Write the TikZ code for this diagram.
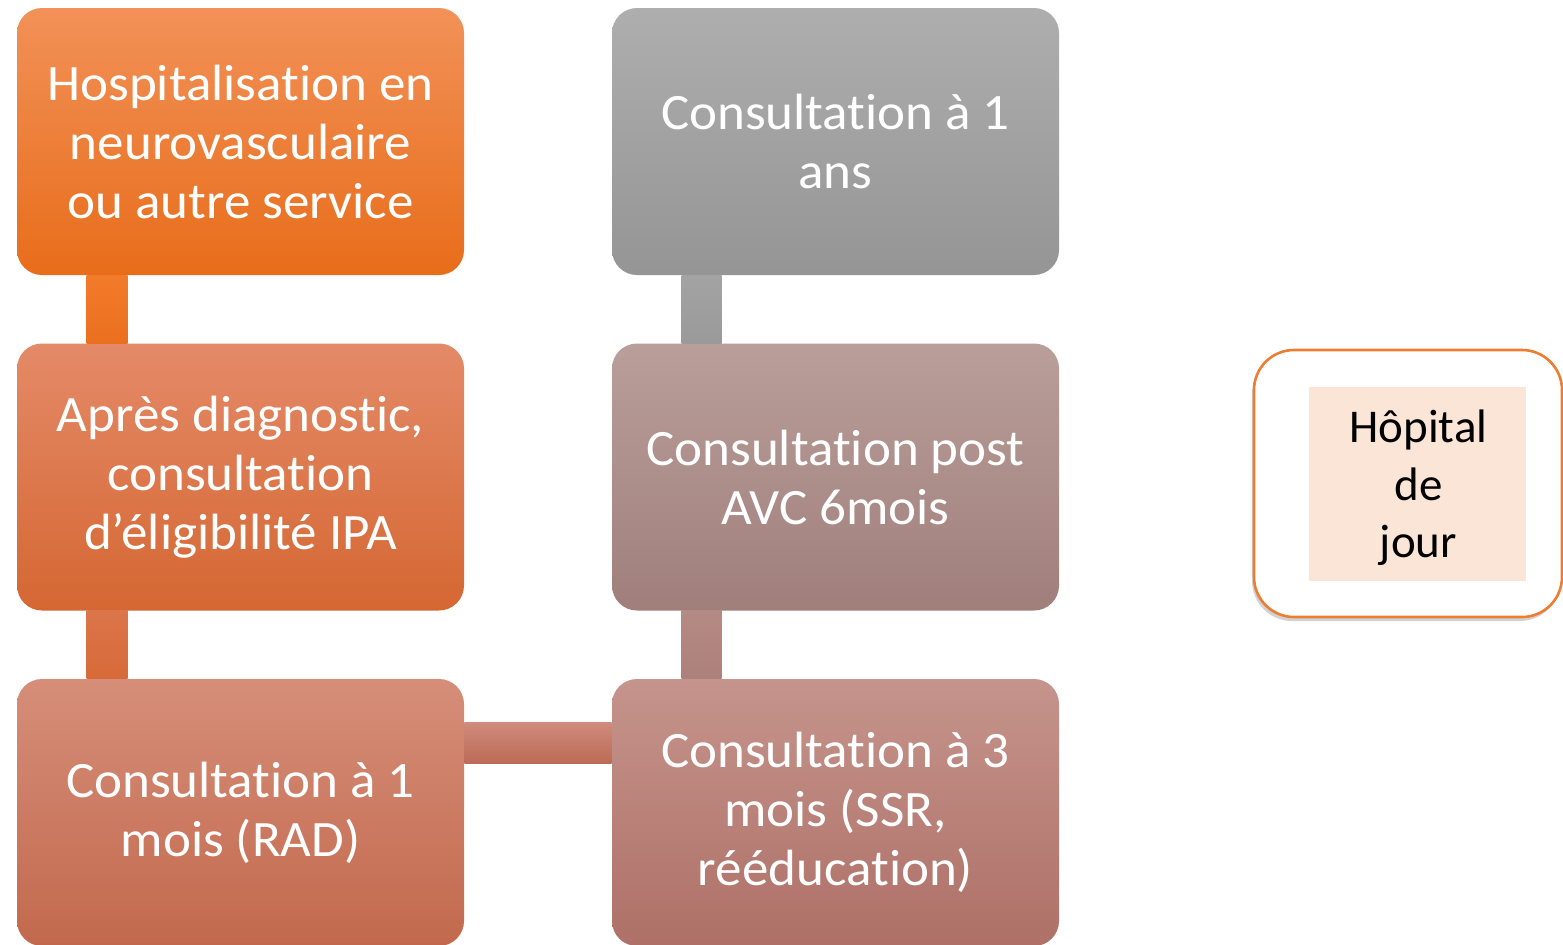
\documentclass[tikz,border=0pt]{standalone}
\usepackage{fontspec}
\setmainfont{Carlito}[RawFeature={-liga;-clig;-dlig;-calt}]
\newfontfamily\widefont{Carlito}[RawFeature={-liga;-clig;-dlig;-calt},FakeStretch=1.04]
\usetikzlibrary{calc,shadows}
\definecolor{bOneT}{HTML}{F29158}\definecolor{bOneB}{HTML}{E86D1A}
\definecolor{bTwoT}{HTML}{E48A68}\definecolor{bTwoB}{HTML}{D56732}
\definecolor{bThrT}{HTML}{D68E79}\definecolor{bThrB}{HTML}{C2694D}
\definecolor{rOneT}{HTML}{AEAEAE}\definecolor{rOneB}{HTML}{959595}
\definecolor{rTwoT}{HTML}{B99E9A}\definecolor{rTwoB}{HTML}{A07F7B}
\definecolor{rThrT}{HTML}{C5948C}\definecolor{rThrB}{HTML}{AE7067}
\definecolor{cLaT}{HTML}{F27B2A}\definecolor{cLaB}{HTML}{EA7020}
\definecolor{cLbT}{HTML}{DC754B}\definecolor{cLbB}{HTML}{D76A38}
\definecolor{cRaT}{HTML}{A3A3A3}\definecolor{cRaB}{HTML}{9A9A9A}
\definecolor{cRbT}{HTML}{B58A84}\definecolor{cRbB}{HTML}{AC807B}
\definecolor{cHT}{HTML}{CF8B7B}\definecolor{cHB}{HTML}{BC6A56}
\definecolor{hjBorder}{HTML}{ED7D31}\definecolor{hjFill}{HTML}{FBE5D6}
\tikzset{
  stepbox/.style={rectangle, rounded corners=12.5pt, minimum width=223.5pt,
    minimum height=133.5pt, inner sep=0pt, align=center, text=white,
    font=\widefont\fontsize{25.5pt}{29.5pt}\selectfont},
  hjouter/.style={rectangle, rounded corners=20pt, minimum width=154pt,
    minimum height=133.5pt, inner sep=0pt, draw=hjBorder, line width=1.3pt,
    fill=white, drop shadow={shadow xshift=-1pt, shadow yshift=-2pt, fill=black!35}},
  hjinner/.style={rectangle, minimum width=108.5pt, minimum height=97pt,
    inner sep=0pt, fill=hjFill},
  hjtext/.style={inner sep=0pt, align=center, text=black,
    font=\fontsize{23.5pt}{28.75pt}\selectfont}
}
\begin{document}
\begin{tikzpicture}[x=0.5pt,y=-0.5pt]
\clip (0,0) rectangle (1563,944);
\fill[white] (0,0) rectangle (1563,944);
% boxes
\node[stepbox, top color=bOneT, bottom color=bOneB] (b1) at (240.5,141.5)
  {Hospitalisation en\\neurovasculaire\\ou autre service};
\node[stepbox, top color=bTwoT, bottom color=bTwoB] (b2) at (240.5,477)
  {Après diagnostic,\\consultation\\d’éligibilité IPA};
\node[stepbox, top color=bThrT, bottom color=bThrB] (b3) at (240.5,812.5)
  {Consultation à 1\\mois (RAD)};
\node[stepbox, top color=rThrT, bottom color=rThrB] (r3) at (835.5,812.5)
  {Consultation à 3\\mois (SSR,\\rééducation)};
\node[stepbox, top color=rTwoT, bottom color=rTwoB] (r2) at (835.5,477)
  {Consultation post\\AVC 6mois};
\node[stepbox, top color=rOneT, bottom color=rOneB] (r1) at (835.5,141.5)
  {Consultation à 1\\ans};
% connectors
\path[top color=cLaT, bottom color=cLaB] ($(b1.south west)+(70,0)$) rectangle ($(b2.north west)+(111,0)$);
\path[top color=cLbT, bottom color=cLbB] ($(b2.south west)+(70,0)$) rectangle ($(b3.north west)+(111,0)$);
\path[top color=cHT, bottom color=cHB] ($(b3.north east)+(0,44)$) rectangle ($(r3.north west)+(0,85)$);
\path[top color=cRbT, bottom color=cRbB] ($(r2.south west)+(70,0)$) rectangle ($(r3.north west)+(110,0)$);
\path[top color=cRaT, bottom color=cRaB] ($(r1.south west)+(70,0)$) rectangle ($(r2.north west)+(110,0)$);
% Hopital de jour
\node[hjouter] (hj) at (1408,483.5) {};
\node[hjinner] (hjf) at (1417.5,484) {};
\node[hjtext] (hjt) at (1418.5,488) {Hôpital\\de\\jour};
\end{tikzpicture}
\end{document}
